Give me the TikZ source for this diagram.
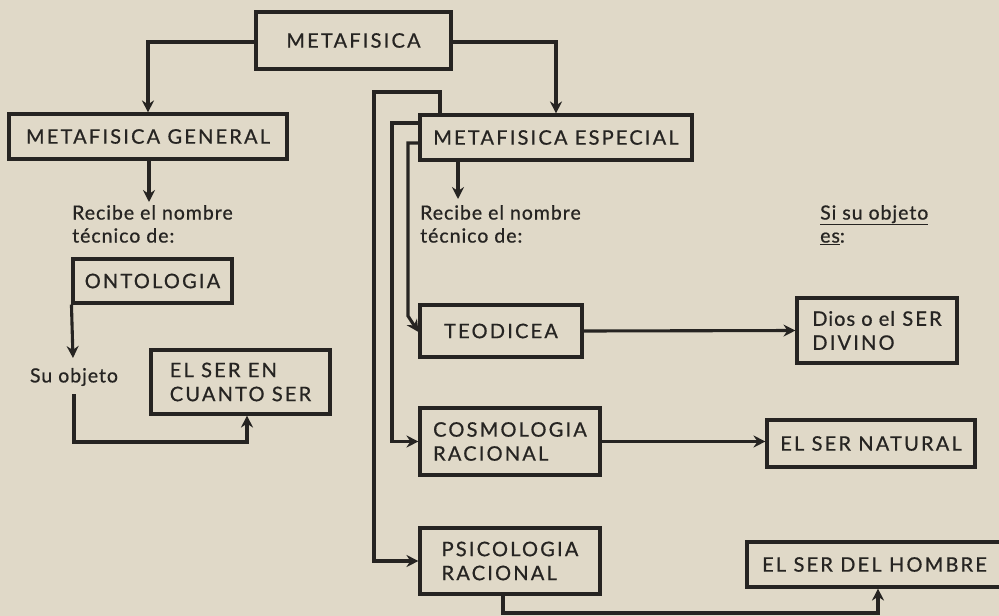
\documentclass[tikz,border=0pt]{standalone}
\usepackage{fontspec}
\setmainfont{Lato}
\newfontfamily\capsfont{Lato}[LetterSpace=11,FakeBold=0.7]
\newfontfamily\lowfont{Lato}[LetterSpace=5,FakeBold=0.7]
\usetikzlibrary{arrows.meta,calc}
\definecolor{paper}{RGB}{224,217,200}
\definecolor{ink}{RGB}{38,36,34}
\tikzset{
  x=1pt,y=-1pt,
  every node/.style={text=ink},
  bx/.style={draw=ink, line width=3.1pt, inner sep=0pt, align=left, font=\capsfont\fontsize{20}{24}\selectfont},
  con/.style={draw=ink, line width=3.1pt},
  arr/.style={con, -{Stealth[length=12pt,width=12pt,inset=4pt]}},
  lbl/.style={align=left, inner sep=0pt, anchor=north west, font=\lowfont\fontsize{19.5}{23}\selectfont}
}
\begin{document}
\begin{tikzpicture}
\fill[paper] (0,0) rectangle (999,616);
\useasboundingbox (0,0) rectangle (999,616);
\clip (0,0) rectangle (999,616);

% boxes
\node[bx, minimum width=195pt, minimum height=57pt] (meta) at (353.5,40.5) {METAFISICA};
\node[bx, minimum width=278pt, minimum height=45pt] (mg) at (148,136.5) {METAFISICA GENERAL};
\node[bx, minimum width=272pt, minimum height=45pt] (me) at (556,137.5) {METAFISICA ESPECIAL};
\node[bx, minimum width=159pt, minimum height=44pt] (onto) at (152.5,281) {ONTOLOGIA};
\node[bx, minimum width=179pt, minimum height=64pt] (ecs) at (240.5,382) {EL SER EN\\CUANTO SER};
\node[bx, minimum width=162pt, minimum height=52pt] (teo) at (501,331) {TEODICEA};
\node[bx, minimum width=180pt, minimum height=67pt] (cos) at (510,441.5) {COSMOLOGIA\\RACIONAL};
\node[bx, minimum width=180pt, minimum height=66pt] (psi) at (510,561) {PSICOLOGIA\\RACIONAL};
\node[bx, minimum width=160pt, minimum height=65pt] (dios) at (877,330.5) {{\lowfont Dios o el} SER\\DIVINO};
\node[bx, minimum width=208pt, minimum height=47pt] (nat) at (871,443.5) {EL SER NATURAL};
\node[bx, minimum width=255pt, minimum height=45pt] (hom) at (874.5,564.5) {EL SER DEL HOMBRE};

% labels
\node[lbl] (rec1) at (72,205) {Recibe el nombre\\técnico de:};
\node[lbl] (rec2) at (420,205) {Recibe el nombre\\técnico de:};
\node[lbl] (siobj) at (820,205) {\underline{Si su objeto}\\\underline{es}:};
\node[lbl, anchor=center] (suobj) at (74,377) {Su objeto};

% free ends
\coordinate (mgend) at (149,202);
\coordinate (meend) at (458,199);
\coordinate (ontoend) at (73,358);

% connectors
\draw[arr] (meta.west |- 0,42) -| (mg.north);
\draw[arr] (meta.east |- 0,42) -| (me.north);
\draw[arr] (mg.south -| 149,0) -- (mgend);
\draw[arr] (me.south -| 458,0) -- (meend);
\draw[arr] (onto.south west) -- (ontoend);
\draw[arr] ($(suobj.south)+(0,8)$) -- (74,442) -| (ecs.south -| 247,0);

\draw[arr] (me.north -| 440,0) -- (440,92) -- (374,92) |- (psi.west);
\draw[arr] (me.west |- 0,123) -- (392,123) |- (cos.west);
\draw[arr] (me.west |- 0,143) -- (408,143) -- (408,316) -- (teo.west |- 0,332);

\draw[arr] (teo.east) -- (dios.west);
\draw[arr] (cos.east) -- (cos.east -| nat.west);
\draw[arr] (psi.south -| 503,0) -- (503,613) -| (hom.south -| 878,0);
\end{tikzpicture}
\end{document}
